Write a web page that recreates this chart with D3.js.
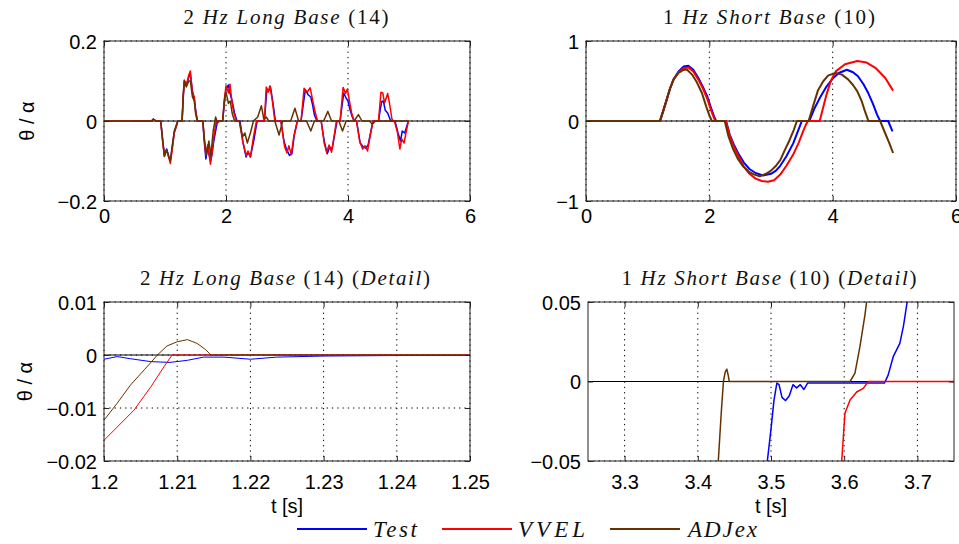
<!DOCTYPE html>
<html><head><meta charset="utf-8">
<script src="https://cdn.jsdelivr.net/npm/d3@7"></script>
<style>body{margin:0;background:#fff;} svg{display:block;}</style>
</head><body><svg id="c" width="959" height="544"></svg>
<script>
// ---------- DATA ----------
const seriesNames = ["Test", "VVEL", "ADJex"];

// Panel 1: 2 Hz Long Base (14)
const tlXTicks = [0, 2, 4, 6];
const tlXLabels = ["0", "2", "4", "6"];
const tlYTicks = [-0.2, 0, 0.2];
const tlYLabels = ["\u22120.2", "0", "0.2"];
const tlTest = [[0.47,0],[0.78,0],[0.81,0.004],[0.85,0],[0.93,0],
 [0.96,-0.045],[0.99,-0.085],[1.027,-0.07],[1.06,-0.088],[1.087,-0.1],[1.12,-0.065],[1.152,-0.028],[1.19,-0.01],[1.21,0],
 [1.28,0],[1.3,0.065],[1.316,0.1],[1.35,0.088],[1.39,0.11],[1.415,0.118],[1.45,0.075],[1.48,0.055],[1.5,0.03],[1.53,0],
 [1.62,0],[1.64,-0.045],[1.67,-0.095],[1.7,-0.065],[1.745,-0.1],[1.77,-0.085],[1.8,-0.05],[1.86,0],
 [1.945,0],[1.97,0.04],[2.0,0.08],[2.04,0.09],[2.065,0.07],[2.1,0.05],[2.14,0.02],[2.18,0],
 [2.23,0],[2.28,-0.055],[2.33,-0.09],[2.36,-0.078],[2.4,-0.09],[2.46,-0.045],[2.51,0],
 [2.63,0],[2.67,0.08],[2.7,0.075],[2.73,0.085],[2.77,0.045],[2.81,0],
 [2.9,0],[2.95,-0.05],[2.99,-0.07],[3.04,-0.086],[3.08,-0.082],[3.12,-0.035],[3.17,0],
 [3.23,0],[3.3,0.078],[3.35,0.065],[3.39,0.06],[3.42,0.04],[3.45,0.015],[3.49,0],
 [3.56,0],[3.61,-0.05],[3.66,-0.082],[3.7,-0.065],[3.74,-0.07],[3.78,-0.035],[3.82,0],
 [3.87,0],[3.93,0.07],[3.97,0.057],[4.0,0.05],[4.03,0.03],[4.07,0.01],[4.1,0],
 [4.14,0],[4.2,-0.055],[4.25,-0.065],[4.29,-0.068],[4.33,-0.06],[4.37,-0.03],[4.41,0],
 [4.5,0],[4.55,0.048],[4.58,0.05],[4.61,0.027],[4.65,0.02],[4.7,0],
 [4.77,0],[4.82,-0.03],[4.86,-0.05],[4.89,-0.025],[4.93,-0.03],[4.96,-0.015],[4.99,0]];
const tlVvel = [[0,0],[0.78,0],[0.81,0.005],[0.85,0],[0.93,0],
 [0.96,-0.05],[0.99,-0.089],[1.027,-0.072],[1.06,-0.09],[1.087,-0.106],[1.12,-0.07],[1.152,-0.03],[1.19,-0.012],[1.21,0],
 [1.28,0],[1.3,0.07],[1.316,0.1025],[1.35,0.09],[1.39,0.115],[1.415,0.125],[1.45,0.069],[1.48,0.061],[1.5,0.028],[1.53,0],
 [1.62,0],[1.64,-0.04],[1.67,-0.085],[1.7,-0.06],[1.745,-0.108],[1.77,-0.08],[1.8,-0.039],[1.84,0],
 [1.945,0],[1.97,0.05],[2.0,0.088],[2.04,0.07],[2.065,0.092],[2.1,0.045],[2.13,0.02],[2.17,0],
 [2.218,0],[2.27,-0.048],[2.33,-0.086],[2.36,-0.075],[2.4,-0.09],[2.45,-0.04],[2.5,0],
 [2.63,0],[2.66,0.085],[2.69,0.072],[2.72,0.088],[2.76,0.05],[2.8,0],
 [2.9,0],[2.96,-0.064],[3.0,-0.08],[3.03,-0.062],[3.07,-0.084],[3.11,-0.04],[3.17,0],
 [3.23,0],[3.28,0.082],[3.33,0.072],[3.38,0.083],[3.42,0.053],[3.46,0.023],[3.5,0],
 [3.56,0],[3.61,-0.056],[3.65,-0.078],[3.69,-0.06],[3.73,-0.078],[3.77,-0.04],[3.81,0],
 [3.87,0],[3.92,0.084],[3.96,0.069],[3.99,0.08],[4.02,0.053],[4.06,0.02],[4.1,0],
 [4.14,0],[4.19,-0.05],[4.24,-0.07],[4.28,-0.062],[4.32,-0.075],[4.36,-0.04],[4.41,0],
 [4.5,0],[4.54,0.072],[4.57,0.07],[4.6,0.045],[4.65,0.069],[4.68,0.045],[4.72,0.005],[4.74,0],
 [4.76,0],[4.81,-0.028],[4.85,-0.07],[4.88,-0.045],[4.92,-0.055],[4.95,-0.03],[4.99,0]];
const tlAdjex = [[0,0],[0.78,0],[0.81,0.005],[0.85,0],[0.93,0],
 [0.96,-0.045],[0.99,-0.088],[1.027,-0.072],[1.06,-0.088],[1.087,-0.1],[1.12,-0.06],[1.152,-0.025],[1.19,-0.008],[1.21,0],
 [1.28,0],[1.3,0.06],[1.32,0.1],[1.35,0.085],[1.39,0.1],[1.415,0.1],[1.45,0.06],[1.48,0.05],[1.5,0.02],[1.53,0],
 [1.62,0],[1.65,-0.05],[1.68,-0.085],[1.72,-0.05],[1.75,-0.088],[1.79,-0.025],[1.83,0.01],[1.86,-0.005],[1.9,0],
 [1.945,0],[1.98,0.06],[2.0,0.072],[2.04,0.044],[2.07,0.05],[2.1,0.02],[2.14,0],
 [2.22,0],[2.27,-0.04],[2.31,-0.03],[2.35,-0.055],[2.4,-0.03],[2.45,0],[2.52,0.01],[2.58,0.038],[2.62,0.005],[2.66,0.01],[2.7,0],
 [2.8,0],[2.87,-0.035],[2.93,0],
 [3.06,0],[3.13,0.032],[3.19,0],
 [3.32,0],[3.39,-0.025],[3.45,0],
 [3.6,0],[3.67,0.024],[3.73,0],
 [3.85,0],[3.91,-0.025],[3.97,0],
 [4.1,0],[4.17,0.016],[4.23,0],
 [4.35,0],[4.4,-0.008],[4.45,0],[5.0,0]];

// Panel 2: 1 Hz Short Base (10)
const trXTicks = [0, 2, 4, 6];
const trXLabels = ["0", "2", "4", "6"];
const trYTicks = [-1, 0, 1];
const trYLabels = ["\u22121", "0", "1"];
const trTest = [[0,0],[1.2,0],[1.25,0.12],[1.31,0.27],[1.36,0.4],[1.42,0.52],[1.5,0.62],[1.58,0.68],[1.66,0.69],[1.74,0.64],[1.82,0.54],[1.9,0.42],[1.97,0.3],[2.03,0.16],[2.08,0.05],[2.11,0],[2.27,0],[2.33,-0.17],[2.4,-0.3],[2.48,-0.42],[2.56,-0.52],[2.65,-0.6],[2.75,-0.65],[2.87,-0.68],[3.0,-0.66],[3.08,-0.62],[3.15,-0.56],[3.25,-0.44],[3.36,-0.28],[3.44,-0.12],[3.5,0],[3.62,0],[3.7,0.15],[3.8,0.3],[3.9,0.43],[4.0,0.53],[4.1,0.6],[4.23,0.64],[4.33,0.61],[4.41,0.56],[4.5,0.46],[4.57,0.36],[4.65,0.22],[4.72,0.08],[4.77,0],[4.9,0],[4.97,-0.13]];
const trVvel = [[0,0],[1.2,0],[1.25,0.12],[1.31,0.27],[1.36,0.4],[1.42,0.52],[1.5,0.61],[1.58,0.66],[1.66,0.67],[1.74,0.62],[1.82,0.52],[1.9,0.4],[1.97,0.27],[2.03,0.13],[2.08,0.03],[2.1,0],[2.27,0],[2.33,-0.18],[2.4,-0.32],[2.48,-0.45],[2.56,-0.57],[2.65,-0.66],[2.75,-0.72],[2.85,-0.75],[2.95,-0.76],[3.05,-0.74],[3.15,-0.67],[3.25,-0.56],[3.36,-0.42],[3.45,-0.27],[3.52,-0.13],[3.57,-0.04],[3.6,0],[3.79,0],[3.85,0.18],[3.9,0.33],[3.97,0.5],[4.05,0.62],[4.2,0.71],[4.4,0.75],[4.55,0.73],[4.7,0.66],[4.85,0.54],[4.98,0.38]];
const trAdjex = [[0,0],[1.2,0],[1.25,0.12],[1.31,0.27],[1.36,0.4],[1.42,0.52],[1.5,0.6],[1.58,0.64],[1.64,0.64],[1.72,0.58],[1.8,0.48],[1.88,0.35],[1.95,0.18],[2.0,0.07],[2.04,0],[2.25,0],[2.31,-0.19],[2.38,-0.34],[2.46,-0.47],[2.55,-0.57],[2.65,-0.64],[2.73,-0.67],[2.82,-0.69],[2.92,-0.66],[3.0,-0.62],[3.08,-0.56],[3.15,-0.49],[3.22,-0.37],[3.3,-0.24],[3.37,-0.11],[3.42,0],[3.61,0],[3.68,0.18],[3.76,0.38],[3.85,0.5],[3.93,0.57],[4.05,0.6],[4.15,0.58],[4.25,0.52],[4.33,0.45],[4.4,0.37],[4.47,0.25],[4.52,0.13],[4.58,0],[4.77,0],[4.85,-0.15],[4.92,-0.28],[4.98,-0.4]];

// Panel 3: 2 Hz Long Base (14) (Detail)
const blXTicks = [1.2, 1.21, 1.22, 1.23, 1.24, 1.25];
const blXLabels = ["1.2", "1.21", "1.22", "1.23", "1.24", "1.25"];
const blYTicks = [-0.02, -0.01, 0, 0.01];
const blYLabels = ["\u22120.02", "\u22120.01", "0", "0.01"];
const blTest = [[1.2,-0.0008],[1.2018,-0.0003],[1.2036,-0.0007],[1.2064,-0.00125],[1.209,-0.0014],[1.2114,-0.001],[1.2136,-0.0004],[1.2164,-0.0004],[1.22,-0.0008],[1.2236,-0.0004],[1.23,-0.0002],[1.24,-0.0001],[1.25,-0.0001]];
const blVvel = [[1.2,-0.0161],[1.2018,-0.0136],[1.2041,-0.0104],[1.2064,-0.006],[1.2082,-0.0022],[1.2093,0],[1.25,0]];
const blAdjex = [[1.2,-0.0123],[1.2018,-0.0091],[1.2036,-0.0057],[1.2055,-0.0028],[1.2073,0],[1.2086,0.0017],[1.21,0.0025],[1.2114,0.0029],[1.2127,0.0022],[1.2139,0.001],[1.2146,0],[1.25,0]];

// Panel 4: 1 Hz Short Base (10) (Detail)
const brXTicks = [3.3, 3.4, 3.5, 3.6, 3.7];
const brXLabels = ["3.3", "3.4", "3.5", "3.6", "3.7"];
const brYTicks = [-0.05, 0, 0.05];
const brYLabels = ["\u22120.05", "0", "0.05"];
const brTest = [[3.492,-0.06],[3.495,-0.05],[3.5,-0.03],[3.504,-0.012],[3.508,-0.001],[3.511,-0.002],[3.515,-0.01],[3.52,-0.012],[3.525,-0.009],[3.53,-0.002],[3.535,-0.004],[3.54,-0.002],[3.545,-0.005],[3.55,-0.001],[3.56,-0.001],[3.655,-0.001],[3.66,0.004],[3.667,0.0156],[3.676,0.024],[3.681,0.035],[3.686,0.05],[3.688,0.06]];
const brVvel = [[3.594,-0.07],[3.5966,-0.05],[3.601,-0.02],[3.608,-0.0116],[3.617,-0.0066],[3.626,-0.0043],[3.633,0],[3.75,0]];
const brAdjex = [[3.425,-0.07],[3.428,-0.05],[3.432,-0.02],[3.435,0],[3.4375,0.006],[3.4397,0.0077],[3.4415,0.004],[3.443,0],[3.608,0],[3.6147,0.0052],[3.6215,0.0219],[3.6283,0.0418],[3.6306,0.05],[3.632,0.06]];

// ---------- DRAW ----------
const svg = d3.select('#c');
const colors = ['#0000ff', '#ff0000', '#663300'];
const tickFont = '"Liberation Sans", Arial, Helvetica, sans-serif';
const serif = '"Liberation Serif", "Times New Roman", serif';

const panels = [
  {id:'tl', left:104, right:470, top:41, bottom:201, xd:[0,6], yd:[-0.2,0.2], xt:tlXTicks, xl:tlXLabels, yt:tlYTicks, yl:tlYLabels,
   data:[tlTest, tlVvel, tlAdjex], lw:1.5, xPad:8, title:[['2 ',0],['Hz Long Base',1],[' (14)',0]], tx:286, ty:24, tw:205, ylab:true},
  {id:'tr', left:586, right:956, top:41, bottom:201, xd:[0,6], yd:[-1,1], xt:trXTicks, xl:trXLabels, yt:trYTicks, yl:trYLabels,
   data:[trTest, trVvel, trAdjex], lw:2, xPad:8, title:[['1 ',0],['Hz Short Base',1],[' (10)',0]], tx:769, ty:24, tw:212, ylab:false},
  {id:'bl', left:104, right:470, top:302, bottom:461, xd:[1.2,1.25], yd:[-0.02,0.01], xt:blXTicks, xl:blXLabels, yt:blYTicks, yl:blYLabels,
   data:[blTest, blVvel, blAdjex], lw:1, xPad:14, title:[['2 ',0],['Hz Long Base',1],[' (14) (',0],['Detail',1],[')',0]], tx:285, ty:285, tw:290, ylab:true, xlab:true},
  {id:'br', left:588, right:954, top:302, bottom:461, xd:[3.25,3.75], yd:[-0.05,0.05], xt:brXTicks, xl:brXLabels, yt:brYTicks, yl:brYLabels,
   data:[brTest, brVvel, brAdjex], lw:1.5, xPad:14, title:[['1 ',0],['Hz Short Base',1],[' (10) (',0],['Detail',1],[')',0]], tx:769, ty:285, tw:295, ylab:false, xlab:true}
];

const defs = svg.append('defs');

panels.forEach(p => {
  const x = d3.scaleLinear().domain(p.xd).range([p.left, p.right]);
  const y = d3.scaleLinear().domain(p.yd).range([p.bottom, p.top]);
  const g = svg.append('g');
  const cid = 'clip-' + p.id;
  defs.append('clipPath').attr('id', cid).append('rect')
    .attr('x', p.left).attr('y', p.top).attr('width', p.right - p.left).attr('height', p.bottom - p.top);

  // grid (dotted)
  g.selectAll('line.gx').data(p.xt).join('line').attr('class','gx')
    .attr('x1', d => x(d)).attr('x2', d => x(d)).attr('y1', p.top).attr('y2', p.bottom)
    .attr('stroke', '#000').attr('stroke-width', 1).attr('stroke-dasharray', '1.3,4');
  g.selectAll('line.gy').data(p.yt).join('line').attr('class','gy')
    .attr('y1', d => y(d)).attr('y2', d => y(d)).attr('x1', p.left).attr('x2', p.right)
    .attr('stroke', '#000').attr('stroke-width', 1).attr('stroke-dasharray', '1.3,4');

  // zero line
  g.append('line').attr('x1', p.left).attr('x2', p.right).attr('y1', y(0)).attr('y2', y(0))
    .attr('stroke', '#000').attr('stroke-width', 1);

  // data
  const line = d3.line().x(d => x(d[0])).y(d => y(d[1]));
  const dg = g.append('g').attr('clip-path', `url(#${cid})`);
  p.data.forEach((s, i) => {
    dg.append('path').attr('d', line(s)).attr('fill', 'none')
      .attr('stroke', colors[i]).attr('stroke-width', p.lw).attr('stroke-linejoin', 'round');
  });

  // axes
  const ab = g.append('g').attr('transform', `translate(0,${p.bottom})`)
    .call(d3.axisBottom(x).tickValues(p.xt).tickFormat((d, i) => p.xl[i]).tickSizeInner(-5).tickSizeOuter(0).tickPadding(p.xPad));
  const al = g.append('g').attr('transform', `translate(${p.left},0)`)
    .call(d3.axisLeft(y).tickValues(p.yt).tickFormat((d, i) => p.yl[i]).tickSizeInner(-5).tickSizeOuter(0).tickPadding(7));
  const at = g.append('g').attr('transform', `translate(0,${p.top})`)
    .call(d3.axisTop(x).tickValues(p.xt).tickFormat('').tickSizeInner(-5).tickSizeOuter(0));
  const ar = g.append('g').attr('transform', `translate(${p.right},0)`)
    .call(d3.axisRight(y).tickValues(p.yt).tickFormat('').tickSizeInner(-5).tickSizeOuter(0));
  [ab, al, at, ar].forEach(a => {
    a.select('.domain').remove();
    a.attr('font-family', tickFont).attr('font-size', 20);
    a.selectAll('line').attr('stroke', '#222');
    a.selectAll('text').attr('fill', '#000');
  });
  al.selectAll('text').attr('dy', '0.36em');

  // frame
  g.append('rect').attr('x', p.left).attr('y', p.top).attr('width', p.right - p.left).attr('height', p.bottom - p.top)
    .attr('fill', 'none').attr('stroke', '#222').attr('stroke-width', 1);

  // title
  const t = svg.append('text').attr('x', p.tx).attr('y', p.ty).attr('text-anchor', 'middle')
    .attr('font-family', serif).attr('font-size', 21).attr('fill', '#111')
    .attr('textLength', p.tw).attr('lengthAdjust', 'spacing');
  p.title.forEach(([s, it]) => t.append('tspan').text(s).attr('font-style', it ? 'italic' : 'normal'));

  // y label
  if (p.ylab) {
    const cy = (p.top + p.bottom) / 2;
    svg.append('text').attr('transform', `translate(${p.id === 'tl' ? 34 : 32},${cy}) rotate(-90)`)
      .attr('text-anchor', 'middle').attr('font-family', tickFont).attr('font-size', 20).attr('fill', '#000')
      .text('\u03b8 / \u03b1');
  }
  if (p.xlab) {
    svg.append('text').attr('x', (p.left + p.right) / 2).attr('y', 513).attr('text-anchor', 'middle')
      .attr('font-family', tickFont).attr('font-size', 20).attr('fill', '#000').text('t [s]');
  }
});

// legend
const legendItems = [
  {name: seriesNames[0], x1: 297, x2: 367, tx: 373, tw: 44},
  {name: seriesNames[1], x1: 442, x2: 512, tx: 518, tw: 67},
  {name: seriesNames[2], x1: 610, x2: 680, tx: 688, tw: 69}
];
const lg = svg.append('g');
legendItems.forEach((d, i) => {
  lg.append('line').attr('x1', d.x1).attr('x2', d.x2).attr('y1', 529).attr('y2', 529)
    .attr('stroke', colors[i]).attr('stroke-width', 2);
  lg.append('text').attr('x', d.tx).attr('y', 537).attr('font-family', serif).attr('font-style', 'italic')
    .attr('font-size', 23).attr('fill', '#111').attr('textLength', d.tw).attr('lengthAdjust', 'spacing').text(d.name);
});
</script>
</body></html>
